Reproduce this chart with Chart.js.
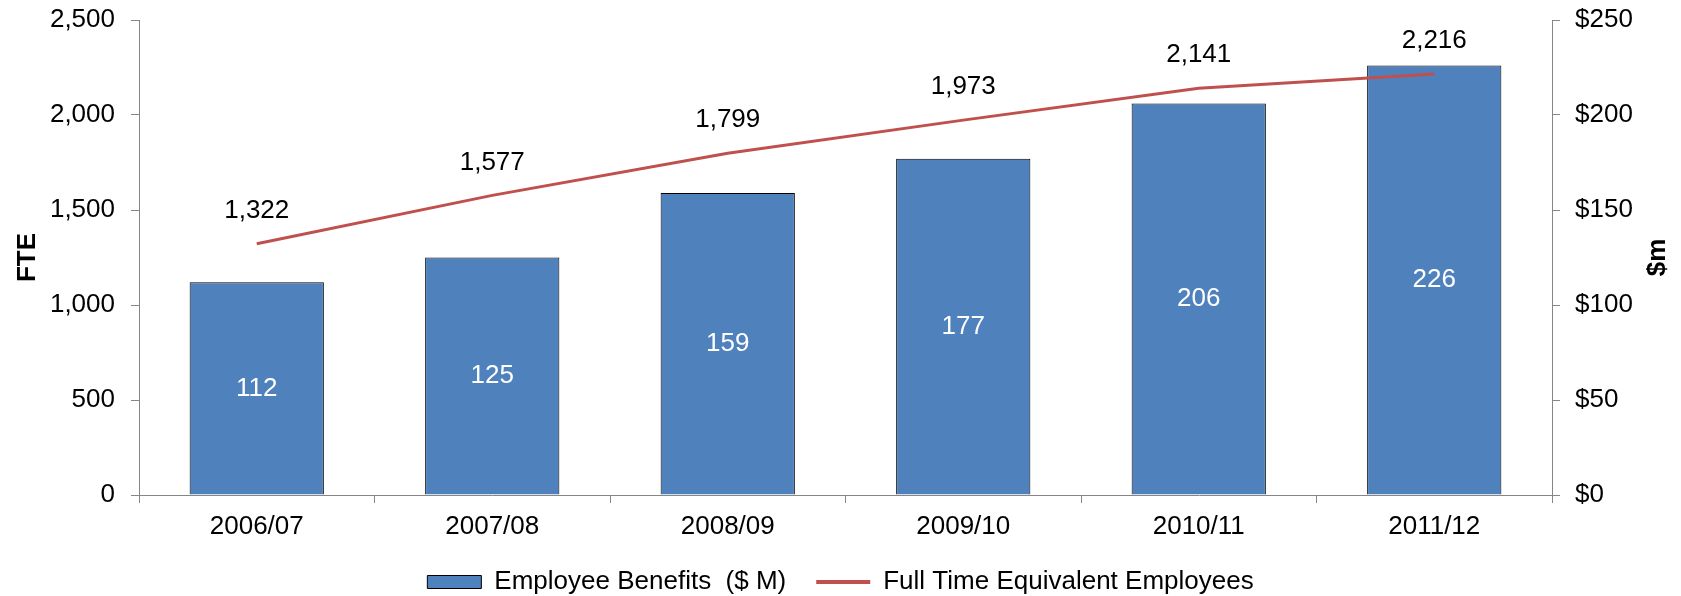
<!DOCTYPE html>
<html>
<head>
<meta charset="utf-8">
<script src="https://cdn.jsdelivr.net/npm/chart.js@4"></script>
<style>
  html, body { margin: 0; padding: 0; background: #ffffff; }
  #wrap { width: 1681px; height: 596px; position: relative; }
</style>
</head>
<body>
<div id="wrap"><canvas id="c" width="1681" height="596"></canvas></div>
<script>
const categories = ["2006/07", "2007/08", "2008/09", "2009/10", "2010/11", "2011/12"];
const benefitsMillions = [112, 125, 159, 177, 206, 226];
const fteEmployees = [1322, 1577, 1799, 1973, 2141, 2216];
const fteTicks = [0, 500, 1000, 1500, 2000, 2500];
const dollarTicks = [0, 50, 100, 150, 200, 250];
const seriesNames = ["Employee Benefits  ($ M)", "Full Time Equivalent Employees"];
const axisTitles = { left: "FTE", right: "$m" };

const FONT = "'Liberation Sans', Arial, sans-serif";
const AXIS_GREY = "#868686";
Chart.defaults.font.family = FONT;
Chart.defaults.font.size = 26;
Chart.defaults.color = "#000000";

const valueLabels = {
  id: "valueLabels",
  afterDatasetsDraw(chart) {
    const ctx = chart.ctx;
    ctx.save();
    ctx.font = "26px " + FONT;
    ctx.textAlign = "center";
    ctx.textBaseline = "middle";
    const barMeta = chart.getDatasetMeta(0);
    barMeta.data.forEach((el, i) => {
      ctx.fillStyle = "#ffffff";
      ctx.fillText(String(benefitsMillions[i]), el.x, (el.y + el.base) / 2);
    });
    const lineMeta = chart.getDatasetMeta(1);
    lineMeta.data.forEach((el, i) => {
      ctx.fillStyle = "#000000";
      ctx.fillText(fteEmployees[i].toLocaleString("en-US"), el.x, el.y - 33);
    });
    ctx.restore();
  },
  afterDraw(chart) {
    const s = chart.scales.y1;
    const ctx = chart.ctx;
    ctx.save();
    ctx.font = "bold 26px " + FONT;
    ctx.fillStyle = "#000000";
    ctx.textAlign = "center";
    ctx.textBaseline = "middle";
    ctx.translate(s.right - 23, (chart.chartArea.top + chart.chartArea.bottom) / 2);
    ctx.rotate(-Math.PI / 2);
    ctx.fillText(axisTitles.right, 0, 0);
    ctx.restore();
  }
};

function noOverhang(scale) {
  scale.paddingTop = 0;
  scale.paddingBottom = 0;
}

new Chart(document.getElementById("c"), {
  data: {
    labels: categories,
    datasets: [
      {
        type: "bar",
        label: seriesNames[0],
        data: benefitsMillions,
        yAxisID: "y1",
        backgroundColor: "#4F81BD",
        borderColor: "#000000",
        borderWidth: 1,
        barPercentage: 0.57,
        categoryPercentage: 1.0,
        order: 2
      },
      {
        type: "line",
        label: seriesNames[1],
        data: fteEmployees,
        yAxisID: "y",
        borderColor: "#C0504D",
        backgroundColor: "#C0504D",
        borderWidth: 3,
        pointRadius: 0,
        tension: 0,
        order: 1
      }
    ]
  },
  options: {
    responsive: false,
    animation: false,
    events: [],
    layout: { padding: { top: 20, left: 0, right: 0, bottom: 0 } },
    plugins: {
      tooltip: { enabled: false },
      legend: {
        position: "bottom",
        maxHeight: 57,
        labels: {
          usePointStyle: true,
          pointStyleWidth: 54,
          boxHeight: 13,
          padding: 30,
          color: "#000000",
          font: { size: 26, family: FONT },
          sort: (a, b) => a.datasetIndex - b.datasetIndex,
          generateLabels(chart) {
            const items = Chart.defaults.plugins.legend.labels.generateLabels(chart);
            items.forEach(it => {
              if (it.datasetIndex === 0) { it.pointStyle = "rect"; it.lineWidth = 1; it.strokeStyle = "#000000"; }
              else { it.pointStyle = "line"; it.lineWidth = 4; it.strokeStyle = "#C0504D"; }
            });
            return items;
          }
        }
      }
    },
    scales: {
      x: {
        offset: true,
        grid: { offset: true, drawOnChartArea: false, drawTicks: true, tickLength: 8, color: AXIS_GREY },
        border: { display: true, color: AXIS_GREY, width: 1 },
        ticks: { padding: 8, color: "#000000", font: { size: 26 }, maxRotation: 0, autoSkip: false },
        afterFit(scale) { scale.height = 44; scale.paddingLeft = 0; scale.paddingRight = 0; }
      },
      y: {
        position: "left",
        min: fteTicks[0],
        max: fteTicks[fteTicks.length - 1],
        afterBuildTicks(scale) { scale.ticks = fteTicks.map(v => ({ value: v })); },
        grid: { drawOnChartArea: false, drawTicks: true, tickLength: 8, color: AXIS_GREY },
        border: { display: true, color: AXIS_GREY, width: 1 },
        ticks: {
          padding: 16,
          color: "#000000",
          font: { size: 26 },
          callback: v => Number(v).toLocaleString("en-US")
        },
        title: {
          display: true,
          text: axisTitles.left,
          color: "#000000",
          font: { size: 26, weight: "bold" },
          padding: { top: 12, bottom: 0 }
        },
        afterFit(scale) { scale.width = 139; noOverhang(scale); }
      },
      y1: {
        position: "right",
        min: dollarTicks[0],
        max: dollarTicks[dollarTicks.length - 1],
        afterBuildTicks(scale) { scale.ticks = dollarTicks.map(v => ({ value: v })); },
        grid: { drawOnChartArea: false, drawTicks: true, tickLength: 8, color: AXIS_GREY },
        border: { display: true, color: AXIS_GREY, width: 1 },
        ticks: {
          padding: 15,
          color: "#000000",
          font: { size: 26 },
          callback: v => "$" + v
        },
        afterFit(scale) { scale.width = 129; noOverhang(scale); }
      }
    }
  },
  plugins: [valueLabels]
});
</script>
</body>
</html>
